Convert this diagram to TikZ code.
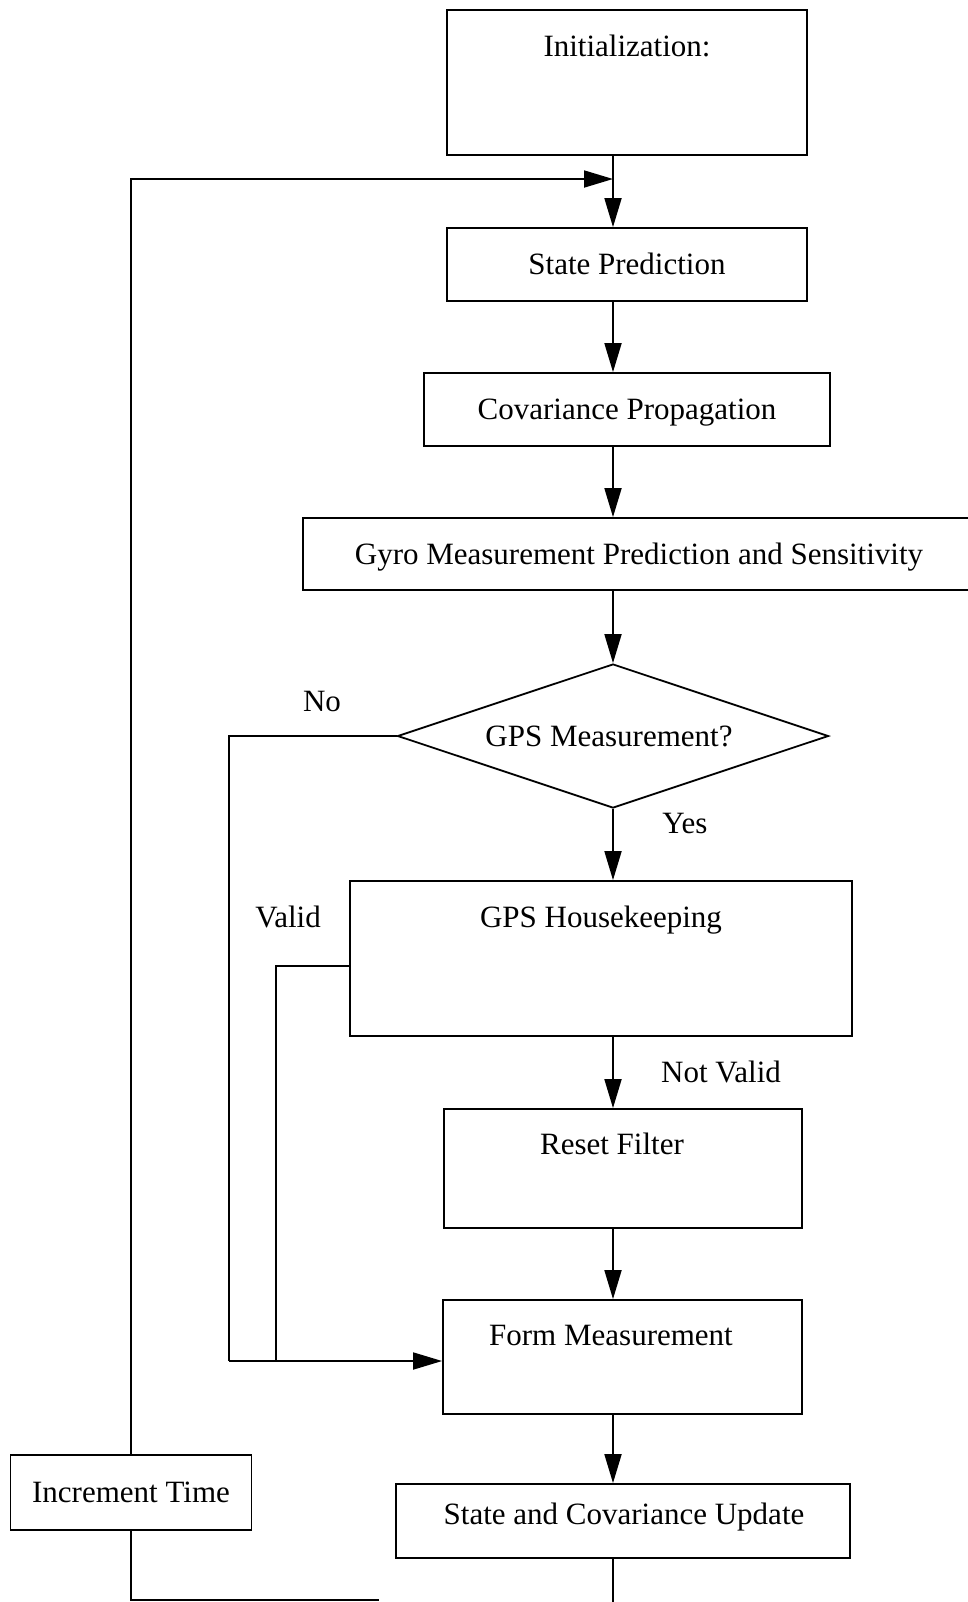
\documentclass[tikz,border=0pt]{standalone}
\usepackage{fontspec}
\setmainfont{Liberation Serif}
\usetikzlibrary{shapes.geometric,arrows.meta}
\tikzset{
  bx/.style={draw, line width=.9pt, inner sep=0pt, text height=10.3pt, text depth=0pt},
  dec/.style={draw, diamond, line width=.9pt, inner sep=0pt},
  lbl/.style={anchor=base, inner sep=0pt},
  ln/.style={line width=.9pt},
  arr/.style={line width=.9pt, -{Triangle[length=14.5pt, width=8.5pt]}}
}
\begin{document}
\begin{tikzpicture}[x=0.5pt, y=-0.5pt, font=\fontsize{15.5}{18}\selectfont]
\clip (0,0) rectangle (968,1602);
\fill[white] (0,0) rectangle (968,1602);

% boxes
\node[bx, minimum width=180pt, minimum height=72.5pt] (init) at (627,82.5) {};
\node[bx, minimum width=180pt, minimum height=36.5pt] (statep) at (627,264.5) {State Prediction};
\node[bx, minimum width=203pt, minimum height=36.5pt] (covp) at (627,409.5) {Covariance Propagation};
\node[bx, minimum width=348.5pt, minimum height=36pt] (gyro) at (651.5,554) {};
\node[dec, minimum width=215.5pt, minimum height=72pt] (gps) at (613,736) {};
\node[bx, minimum width=251pt, minimum height=77.5pt] (hk) at (601,958.5) {};
\node[bx, minimum width=179pt, minimum height=59.5pt] (reset) at (623,1168.5) {};
\node[bx, minimum width=179.5pt, minimum height=57pt] (form) at (622.5,1357) {};
\node[bx, minimum width=227pt, minimum height=37pt] (upd) at (623,1521) {};
\node[bx, minimum width=120.5pt, minimum height=37.5pt] (inc) at (131,1492.5) {Increment Time};

% box texts
\node[lbl] (tinit) at (627,56.5) {Initialization:};
\node[lbl] (tgyro) at (639,564.5) {Gyro Measurement Prediction and Sensitivity};
\node[lbl] (tgps) at (609,746.5) {GPS Measurement?};
\node[lbl] (thk) at (601,927.5) {GPS Housekeeping};
\node[lbl] (treset) at (612,1154.5) {Reset Filter};
\node[lbl] (tform) at (611,1345.5) {Form Measurement};
\node[lbl] (tupd) at (624,1524.5) {State and Covariance Update};

% branch labels
\node[lbl] (lno) at (322,711.5) {No};
\node[lbl] (lyes) at (685,833.5) {Yes};
\node[lbl] (lvalid) at (288,927.5) {Valid};
\node[lbl] (lnotvalid) at (721,1082.5) {Not Valid};

% main flow axis and junctions
\coordinate (ax) at (613,0);
\coordinate (loop) at (131,179);
\coordinate (join) at (229,1361);
\coordinate (vjoin) at (276,1361);
\coordinate (vturn) at (276,966);
\coordinate (bot) at (131,1600);
\coordinate (botend) at (379,1600);
\coordinate (updend) at (613,1610);

% vertical flow
\draw[ln] (init.south -| ax) -- (loop -| ax);
\draw[arr] (loop -| ax) -- (statep.north -| ax);
\draw[arr] (statep.south -| ax) -- (covp.north -| ax);
\draw[arr] (covp.south -| ax) -- (gyro.north -| ax);
\draw[arr] (gyro.south -| ax) -- (gps.north);
\draw[arr] (gps.south) -- (hk.north -| gps.south);
\draw[arr] (hk.south -| ax) -- (reset.north -| ax);
\draw[arr] (reset.south -| ax) -- (form.north -| ax);
\draw[arr] (form.south -| ax) -- (upd.north -| ax);
\draw[ln] (upd.south -| ax) -- (updend);

% No branch and Valid branch into Form Measurement
\draw[ln] (gps.west) -| (join);
\draw[ln] (hk.west |- vturn) -- (vturn) -- (vjoin);
\draw[arr] (join) -- (form.west |- join);

% loop back through Increment Time
\draw[ln] (inc.south -| bot) -- (bot) -- (botend);
\draw[arr] (inc.north -| loop) -- (loop) -- (loop -| ax);
\end{tikzpicture}
\end{document}
